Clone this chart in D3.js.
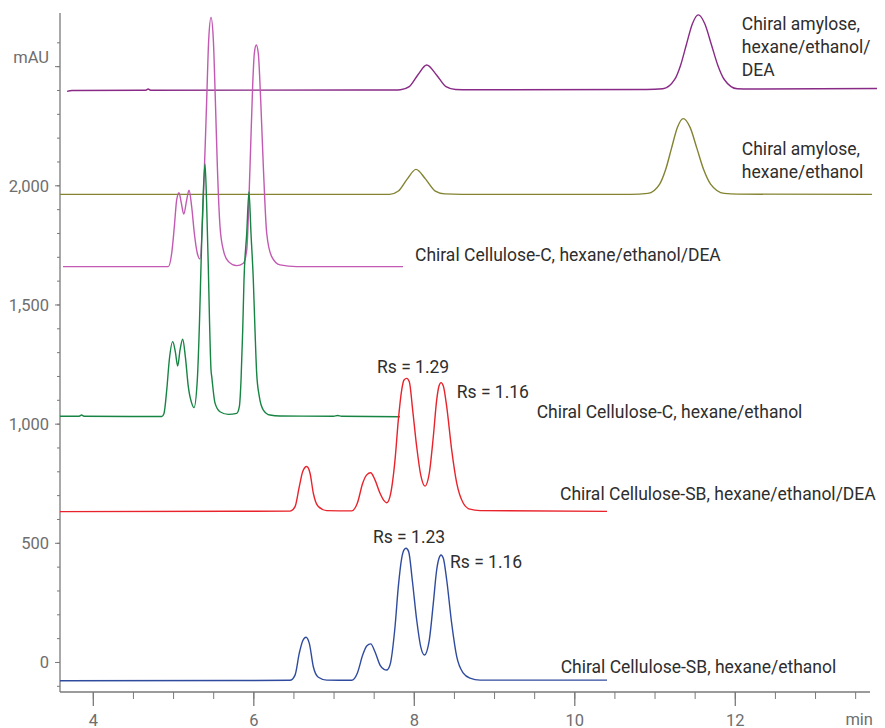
<!DOCTYPE html>
<html>
<head>
<meta charset="utf-8">
<script src="https://cdn.jsdelivr.net/npm/d3@7"></script>
<style>
  html, body { margin: 0; padding: 0; background: #fff; }
  svg { display: block; }
  text { font-family: Roboto, "Liberation Sans", sans-serif; }
</style>
</head>
<body>
<svg id="chart" width="885" height="728"></svg>
<script>
// ---- Data (time in min, absorbance in mAU) ----
const amyloseDEA = [
  [3.679, 2394], [3.741, 2398], [4.588, 2399], [4.66, 2399], [4.69, 2404], [4.72, 2399],
  [7.766, 2400], [7.834, 2401], [7.943, 2414], [8.052, 2464], [8.161, 2505],
  [8.281, 2464], [8.401, 2414], [8.52, 2402], [8.7, 2401], [10.9, 2402],
  [11.104, 2405], [11.251, 2444], [11.325, 2504], [11.398, 2592], [11.472, 2678],
  [11.545, 2715], [11.626, 2678], [11.707, 2592], [11.788, 2504], [11.869, 2444],
  [12.031, 2405], [12.19, 2404], [13.772, 2406]
];
const amylose = [
  [3.591, 1962], [7.698, 1962], [7.808, 1976], [7.917, 2026], [8.027, 2067],
  [8.147, 2026], [8.268, 1976], [8.388, 1964], [8.6, 1962], [10.7, 1962],
  [10.917, 1966], [11.064, 2005], [11.1375, 2065], [11.211, 2155], [11.2845, 2243],
  [11.358, 2280], [11.443, 2243], [11.528, 2155], [11.613, 2065], [11.698, 2005],
  [11.868, 1966], [12.04, 1963], [13.71, 1962]
];
const celluloseCDEA = [
  [3.629, 1659], [4.941, 1659], [4.983, 1715], [5.016, 1827], [5.045, 1939],
  [5.074, 1969], [5.103, 1925], [5.133, 1879], [5.17, 1939], [5.199, 1979],
  [5.232, 1910], [5.265, 1799], [5.302, 1715], [5.336, 1691], [5.377, 1939],
  [5.419, 2358], [5.444, 2610], [5.473, 2704], [5.502, 2610], [5.527, 2358],
  [5.552, 2078], [5.585, 1827], [5.626, 1729], [5.689, 1680], [5.793, 1663],
  [5.876, 1673], [5.918, 1729], [5.959, 2078], [5.993, 2428], [6.013, 2554],
  [6.037, 2589], [6.062, 2554], [6.092, 2358], [6.125, 2078], [6.167, 1799],
  [6.229, 1701], [6.333, 1666], [6.541, 1659], [7.865, 1659]
];
const celluloseC = [
  [3.591, 1031], [3.83, 1031], [3.86, 1036], [3.89, 1031], [4.859, 1030],
  [4.887, 1043], [4.921, 1141], [4.953, 1267], [4.996, 1344], [5.028, 1302],
  [5.058, 1242], [5.087, 1309], [5.12, 1354], [5.153, 1281], [5.19, 1155],
  [5.232, 1086], [5.261, 1067], [5.302, 1183], [5.33, 1435], [5.348, 1659],
  [5.373, 1939], [5.398, 2090], [5.417, 1939], [5.439, 1659], [5.454, 1435],
  [5.473, 1225], [5.482, 1197], [5.523, 1086], [5.585, 1050], [5.689, 1039],
  [5.793, 1043], [5.826, 1071], [5.847, 1183], [5.868, 1393], [5.884, 1603],
  [5.918, 1799], [5.946, 1973], [5.971, 1799], [6.0, 1603], [6.021, 1393],
  [6.042, 1211], [6.075, 1113], [6.125, 1057], [6.208, 1036], [6.333, 1032],
  [7.0, 1031], [7.05, 1034], [7.1, 1031], [7.827, 1029]
];
const celluloseSBDEA = [
  [3.591, 631], [6.457, 633], [6.52, 652], [6.573, 736], [6.616, 799], [6.665, 820],
  [6.707, 792], [6.748, 708], [6.81, 652], [6.915, 635], [7.226, 634],
  [7.296, 666], [7.363, 750], [7.413, 785], [7.463, 794], [7.516, 764],
  [7.579, 708], [7.629, 677], [7.662, 668], [7.703, 694], [7.766, 848],
  [7.807, 1015], [7.849, 1141], [7.878, 1183], [7.912, 1190], [7.944, 1176],
  [7.986, 1057], [8.036, 903], [8.086, 785], [8.14, 738], [8.193, 792],
  [8.243, 945], [8.285, 1099], [8.314, 1158], [8.339, 1172], [8.368, 1158],
  [8.41, 1071], [8.472, 890], [8.535, 750], [8.617, 666], [8.7, 641],
  [8.825, 635], [10.408, 632]
];
const celluloseSB = [
  [3.591, -79], [6.457, -77], [6.52, -55], [6.573, 37], [6.616, 89], [6.657, 104],
  [6.698, 78], [6.748, -20], [6.81, -64], [6.915, -76], [7.226, -77],
  [7.296, -47], [7.363, 29], [7.413, 67], [7.463, 76], [7.516, 43],
  [7.579, -13], [7.629, -31], [7.662, -34], [7.703, -13], [7.766, 148],
  [7.807, 316], [7.849, 435], [7.878, 470], [7.903, 477], [7.936, 463],
  [7.981, 344], [8.036, 176], [8.086, 64], [8.131, 29], [8.193, 92],
  [8.243, 246], [8.285, 386], [8.314, 435], [8.339, 449], [8.368, 435],
  [8.41, 344], [8.472, 162], [8.535, 22], [8.617, -47], [8.7, -68],
  [8.825, -76], [10.408, -76]
];

const seriesNames = ["amyloseDEA", "amylose", "celluloseCDEA", "celluloseC", "celluloseSBDEA", "celluloseSB"];
const seriesData = [amyloseDEA, amylose, celluloseCDEA, celluloseC, celluloseSBDEA, celluloseSB];
const seriesColors = ["#882a86", "#838332", "#c25ab3", "#178443", "#e8232b", "#2f4b9e"];

const yTickValues = [0, 500, 1000, 1500, 2000];
const yTickLabels = ["0", "500", "1,000", "1,500", "2,000"];
const yUnitTick = 2500;
const xTickValues = [4, 6, 8, 10, 12];
const xTickLabels = ["4", "6", "8", "10", "12"];

// annotations: [text lines, time, mAU]
const annotations = [
  [["Chiral amylose,", "hexane/ethanol/", "DEA"], 12.088, 2680],
  [["Chiral amylose,", "hexane/ethanol"], 12.088, 2155],
  [["Chiral Cellulose-C, hexane/ethanol/DEA"], 8.015, 1708],
  [["Rs = 1.29"], 7.541, 1239],
  [["Rs = 1.16"], 8.535, 1134],
  [["Chiral Cellulose-C, hexane/ethanol"], 9.531, 1050],
  [["Chiral Cellulose-SB, hexane/ethanol/DEA"], 9.822, 708],
  [["Rs = 1.23"], 7.491, 526],
  [["Rs = 1.16"], 8.451, 421],
  [["Chiral Cellulose-SB, hexane/ethanol"], 9.83, -20]
];

(function () {
// ---- Layout ----
const svg = d3.select("#chart");
const mLeft = 60, mRight = 870, mTop = 13, mBottom = 692;
const x = d3.scaleLinear().domain([3.591, 13.685]).range([mLeft, mRight]);
const y = d3.scaleLinear().domain([-126, 2723]).range([mBottom, mTop]);
const axisColor = "#7a7a7a";

// Y axis: minor ticks
const yAxisMinor = d3.axisLeft(y).tickValues(d3.range(-100, 2700, 100)).tickSize(3).tickFormat("");
const gyMinor = svg.append("g").attr("transform", `translate(${mLeft},0)`).call(yAxisMinor);
gyMinor.select(".domain").remove();
gyMinor.selectAll("line").attr("stroke", axisColor);

const yAxis = d3.axisLeft(y).tickValues(yTickValues.concat([yUnitTick])).tickSize(5).tickPadding(6)
  .tickFormat((d) => { const i = yTickValues.indexOf(d); return i >= 0 ? yTickLabels[i] : "mAU"; });
const gy = svg.append("g").attr("transform", `translate(${mLeft},0)`).call(yAxis);
gy.select(".domain").remove();
gy.selectAll("line").attr("stroke", axisColor);
gy.selectAll("text").attr("fill", "#6e6e6e").style("font-size", "16.5px")
  .style("font-family", "Roboto, sans-serif").attr("dy", (d) => d === yUnitTick ? "-0.25em" : "0.36em");
svg.append("line").attr("x1", mLeft).attr("x2", mLeft).attr("y1", mTop).attr("y2", mBottom)
  .attr("stroke", axisColor).attr("stroke-width", 1.3);

// X axis
const xAxisMinor = d3.axisBottom(x).tickValues(d3.range(4, 13.51, 0.5)).tickSize(7).tickFormat("");
const gxMinor = svg.append("g").attr("transform", `translate(0,${mBottom})`).call(xAxisMinor);
gxMinor.select(".domain").remove();
gxMinor.selectAll("line").attr("stroke", axisColor);
const xAxis = d3.axisBottom(x).tickValues(xTickValues).tickSize(14).tickPadding(6)
  .tickFormat((d, i) => xTickLabels[i]);
const gx = svg.append("g").attr("transform", `translate(0,${mBottom})`).call(xAxis);
gx.select(".domain").remove();
gx.selectAll("line").attr("stroke", axisColor).attr("stroke-width", 1.3);
gx.selectAll("text").attr("fill", "#6e6e6e").style("font-size", "16.5px")
  .style("font-family", "Roboto, sans-serif").attr("y", 33.5).attr("dy", 0);
svg.append("line").attr("x1", mLeft).attr("x2", mRight).attr("y1", mBottom).attr("y2", mBottom)
  .attr("stroke", axisColor).attr("stroke-width", 1.3);
svg.append("text").attr("x", mRight + 3).attr("y", 725).attr("text-anchor", "end")
  .attr("fill", "#6e6e6e").style("font-size", "16.5px").text("min");

// Traces
const line = d3.line().x((d) => x(d[0])).y((d) => y(d[1])).curve(d3.curveMonotoneX);
svg.append("g").selectAll("path").data(seriesData).join("path")
  .attr("d", line).attr("fill", "none")
  .attr("stroke", (d, i) => seriesColors[i]).attr("stroke-width", 1.4)
  .attr("class", (d, i) => seriesNames[i]);

// Annotations
const ag = svg.append("g");
annotations.forEach(([lines, t, v]) => {
  const txt = ag.append("text").attr("x", x(t)).attr("y", y(v)).attr("fill", "#2e2e2e")
    .style("font-size", "17.5px");
  lines.forEach((s, i) => {
    txt.append("tspan").attr("x", x(t)).attr("dy", i === 0 ? "0.36em" : "23.3px").text(s);
  });
});
})();
</script>
</body>
</html>
